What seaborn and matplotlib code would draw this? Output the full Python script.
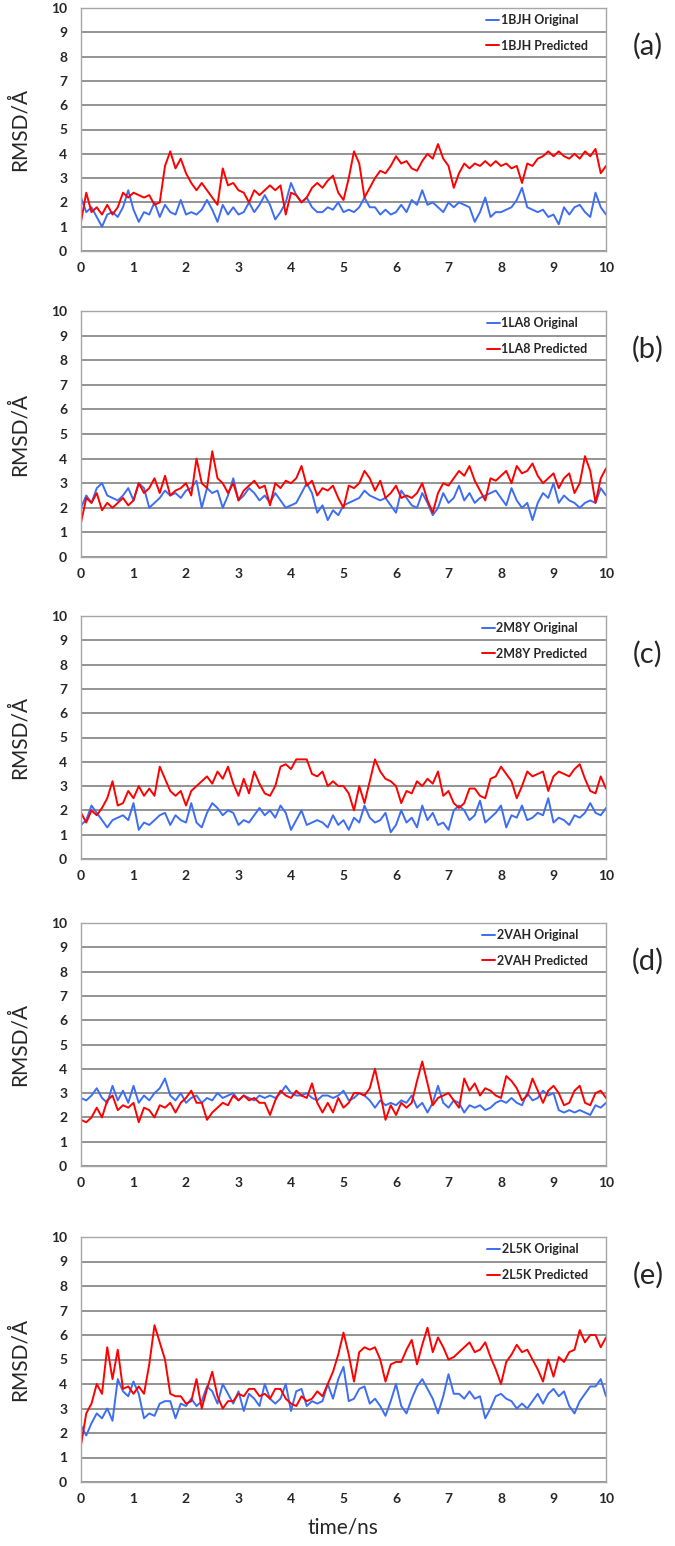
"""
RMSD traces (original vs predicted structures) for five proteins, 0-10 ns.
Values were read by eye from the published figure, sampled every 0.1 ns.
"""
import numpy as np
import pandas as pd
import matplotlib
matplotlib.use("Agg")
import matplotlib.pyplot as plt
import seaborn as sns

sns.set_theme(style="white")
plt.rcParams["font.family"] = ["Lato", "DejaVu Sans"]

# Data (RMSD in Angstrom, one value every 0.1 ns from 0 to 10 ns)
time_ns = np.round(np.arange(101) * 0.1, 1)

bjh_original = [
    2.2, 1.6, 1.8, 1.4, 1.0, 1.5, 1.6, 1.4, 1.8, 2.5,
    1.7, 1.2, 1.6, 1.5, 2.0, 1.4, 1.9, 1.6, 1.5, 2.1,
    1.5, 1.6, 1.5, 1.7, 2.1, 1.7, 1.2, 1.9, 1.5, 1.8,
    1.5, 1.6, 2.0, 1.6, 1.9, 2.3, 1.9, 1.3, 1.6, 2.0,
    2.8, 2.3, 2.0, 2.2, 1.8, 1.6, 1.6, 1.8, 1.7, 2.0,
    1.6, 1.7, 1.6, 1.8, 2.2, 1.8, 1.8, 1.5, 1.7, 1.5,
    1.6, 1.9, 1.6, 2.1, 1.9, 2.5, 1.9, 2.0, 1.8, 1.6,
    2.0, 1.8, 2.0, 1.9, 1.8, 1.2, 1.6, 2.2, 1.4, 1.6,
    1.6, 1.7, 1.8, 2.1, 2.6, 1.8, 1.7, 1.6, 1.7, 1.4,
    1.5, 1.1, 1.8, 1.5, 1.8, 1.9, 1.6, 1.4, 2.4, 1.8,
    1.5,
]
bjh_predicted = [
    1.2, 2.4, 1.6, 1.8, 1.5, 1.9, 1.5, 1.8, 2.4, 2.2,
    2.4, 2.3, 2.2, 2.3, 1.9, 2.0, 3.5, 4.1, 3.4, 3.8,
    3.2, 2.8, 2.5, 2.8, 2.5, 2.2, 1.9, 3.4, 2.7, 2.8,
    2.5, 2.4, 2.0, 2.5, 2.3, 2.5, 2.7, 2.5, 2.7, 1.5,
    2.4, 2.3, 2.0, 2.2, 2.6, 2.8, 2.6, 2.9, 3.1, 2.4,
    2.1, 3.0, 4.1, 3.6, 2.2, 2.6, 3.0, 3.3, 3.2, 3.5,
    3.9, 3.6, 3.7, 3.4, 3.3, 3.7, 4.0, 3.8, 4.4, 3.8,
    3.5, 2.6, 3.2, 3.6, 3.4, 3.6, 3.5, 3.7, 3.5, 3.7,
    3.5, 3.6, 3.4, 3.5, 2.8, 3.6, 3.5, 3.8, 3.9, 4.1,
    3.9, 4.1, 3.9, 3.8, 4.0, 3.8, 4.1, 3.9, 4.2, 3.2,
    3.5,
]

la8_original = [
    2.0, 2.5, 2.2, 2.8, 3.0, 2.5, 2.4, 2.3, 2.5, 2.8,
    2.3, 3.0, 2.8, 2.0, 2.2, 2.4, 2.7, 2.5, 2.6, 2.4,
    2.7, 2.8, 3.1, 2.0, 2.8, 2.6, 2.7, 2.0, 2.5, 3.2,
    2.3, 2.5, 2.8, 2.6, 2.3, 2.5, 2.2, 2.6, 2.3, 2.0,
    2.1, 2.2, 2.6, 3.0, 2.6, 1.8, 2.1, 1.5, 1.9, 1.7,
    2.1, 2.2, 2.3, 2.4, 2.7, 2.5, 2.4, 2.3, 2.4, 2.1,
    1.8, 2.7, 2.4, 2.1, 2.0, 2.6, 2.2, 1.7, 2.0, 2.6,
    2.2, 2.4, 2.9, 2.3, 2.6, 2.2, 2.4, 2.5, 2.6, 2.7,
    2.4, 2.1, 2.8, 2.3, 2.0, 2.2, 1.5, 2.2, 2.6, 2.4,
    3.0, 2.2, 2.5, 2.3, 2.2, 2.0, 2.2, 2.3, 2.2, 2.8,
    2.5,
]
la8_predicted = [
    1.4, 2.4, 2.2, 2.6, 1.9, 2.2, 2.0, 2.2, 2.4, 2.1,
    2.3, 3.0, 2.6, 2.8, 3.2, 2.6, 3.3, 2.5, 2.7, 2.8,
    3.0, 2.5, 4.0, 3.0, 2.8, 4.3, 3.2, 3.0, 2.6, 3.0,
    2.3, 2.7, 2.9, 3.1, 2.8, 2.9, 2.1, 3.0, 2.8, 3.1,
    3.0, 3.2, 3.7, 2.9, 3.1, 2.5, 2.8, 2.7, 2.9, 2.4,
    2.0, 2.9, 2.8, 3.0, 3.5, 3.2, 2.7, 3.1, 2.4, 2.6,
    2.9, 2.4, 2.5, 2.4, 2.6, 3.0, 2.3, 1.8, 2.6, 3.0,
    2.9, 3.2, 3.5, 3.3, 3.7, 3.1, 2.7, 2.3, 3.2, 3.1,
    3.3, 3.5, 3.0, 3.7, 3.4, 3.5, 3.8, 3.3, 3.0, 3.2,
    3.4, 2.8, 3.2, 3.4, 2.6, 3.0, 4.1, 3.5, 2.2, 3.2,
    3.6,
]

m8y_original = [
    1.4, 1.6, 2.2, 1.9, 1.6, 1.3, 1.6, 1.7, 1.8, 1.6,
    2.3, 1.2, 1.5, 1.4, 1.6, 1.8, 1.9, 1.4, 1.8, 1.6,
    1.5, 2.3, 1.5, 1.3, 1.9, 2.3, 2.1, 1.8, 2.0, 1.9,
    1.4, 1.6, 1.5, 1.8, 2.1, 1.8, 2.0, 1.7, 2.2, 1.9,
    1.2, 1.6, 2.0, 1.4, 1.5, 1.6, 1.5, 1.3, 1.8, 1.4,
    1.6, 1.2, 1.7, 1.5, 2.2, 1.7, 1.5, 1.6, 1.9, 1.1,
    1.4, 2.0, 1.5, 1.7, 1.3, 2.2, 1.6, 1.9, 1.4, 1.5,
    1.2, 2.0, 2.2, 2.0, 1.6, 1.8, 2.4, 1.5, 1.7, 1.9,
    2.2, 1.3, 1.8, 1.7, 2.2, 1.6, 1.7, 1.9, 1.8, 2.5,
    1.5, 1.7, 1.6, 1.4, 1.8, 1.7, 1.9, 2.3, 1.9, 1.8,
    2.1,
]
m8y_predicted = [
    1.9, 1.5, 2.0, 1.8, 2.1, 2.5, 3.2, 2.2, 2.3, 2.8,
    2.5, 3.0, 2.6, 2.9, 2.6, 3.8, 3.3, 2.8, 2.6, 2.8,
    2.2, 2.8, 3.0, 3.2, 3.4, 3.1, 3.6, 3.3, 3.8, 3.1,
    2.6, 3.3, 2.7, 3.6, 3.1, 2.7, 2.6, 3.0, 3.8, 3.9,
    3.7, 4.1, 4.1, 4.1, 3.5, 3.4, 3.6, 3.0, 3.2, 3.0,
    3.0, 2.7, 2.0, 3.0, 2.3, 3.2, 4.1, 3.6, 3.3, 3.2,
    3.0, 2.3, 2.8, 2.7, 3.2, 3.0, 3.3, 3.1, 3.6, 2.6,
    2.8, 2.3, 2.1, 2.3, 2.9, 2.9, 2.6, 2.5, 3.3, 3.4,
    3.8, 3.5, 3.2, 2.5, 3.0, 3.6, 3.4, 3.5, 3.6, 2.8,
    3.4, 3.6, 3.5, 3.4, 3.7, 3.9, 3.3, 2.8, 2.7, 3.4,
    2.9,
]

vah_original = [
    2.8, 2.7, 2.9, 3.2, 2.8, 2.6, 3.3, 2.7, 3.1, 2.6,
    3.3, 2.6, 2.9, 2.7, 3.0, 3.2, 3.6, 2.9, 2.7, 3.0,
    2.6, 2.8, 2.9, 2.6, 2.8, 2.7, 3.0, 2.8, 2.9, 3.0,
    2.7, 2.9, 2.8, 2.7, 2.9, 2.8, 2.9, 2.8, 3.0, 3.3,
    3.0, 2.9, 2.9, 3.0, 2.8, 2.7, 2.9, 2.9, 2.8, 2.9,
    3.1, 2.7, 2.8, 3.0, 2.9, 2.7, 2.4, 2.7, 2.5, 2.6,
    2.5, 2.7, 2.6, 2.9, 2.4, 2.6, 2.2, 2.6, 3.3, 2.6,
    2.4, 2.7, 2.6, 2.2, 2.5, 2.4, 2.5, 2.3, 2.4, 2.6,
    2.7, 2.6, 2.8, 2.6, 2.5, 3.0, 2.7, 2.8, 3.1, 2.9,
    3.0, 2.3, 2.2, 2.3, 2.2, 2.3, 2.2, 2.1, 2.5, 2.4,
    2.6,
]
vah_predicted = [
    1.9, 1.8, 2.0, 2.4, 2.0, 2.7, 2.9, 2.3, 2.5, 2.4,
    2.6, 1.8, 2.4, 2.3, 2.0, 2.5, 2.4, 2.6, 2.2, 2.6,
    2.8, 3.1, 2.6, 2.6, 1.9, 2.2, 2.4, 2.6, 2.5, 2.9,
    2.7, 2.9, 2.7, 2.8, 2.6, 2.6, 2.1, 2.7, 3.1, 2.9,
    2.8, 3.1, 2.9, 2.8, 3.4, 2.6, 2.2, 2.6, 2.2, 2.8,
    2.4, 2.6, 3.0, 3.0, 2.9, 3.2, 4.0, 3.0, 1.9, 2.5,
    2.1, 2.6, 2.4, 2.6, 3.5, 4.3, 3.4, 2.5, 2.8, 2.9,
    3.0, 2.7, 2.4, 3.6, 3.1, 3.4, 2.9, 3.2, 3.1, 2.9,
    2.8, 3.7, 3.5, 3.2, 2.7, 2.9, 3.6, 3.1, 2.6, 3.1,
    3.3, 3.0, 2.5, 2.6, 3.1, 3.3, 2.6, 2.5, 3.0, 3.1,
    2.8,
]

l5k_original = [
    2.3, 1.9, 2.4, 2.8, 2.6, 3.0, 2.5, 4.2, 3.7, 3.5,
    4.1, 3.6, 2.6, 2.8, 2.7, 3.2, 3.3, 3.3, 2.6, 3.2,
    3.1, 3.4, 3.1, 3.3, 3.9, 3.7, 3.2, 4.0, 3.6, 3.2,
    3.7, 2.9, 3.6, 3.4, 3.1, 4.0, 3.4, 3.2, 3.4, 4.0,
    2.9, 3.7, 3.8, 3.1, 3.3, 3.2, 3.3, 4.0, 3.4, 4.2,
    4.7, 3.3, 3.4, 3.8, 3.9, 3.2, 3.4, 3.1, 2.7, 3.3,
    4.0, 3.1, 2.8, 3.4, 3.9, 4.2, 3.8, 3.4, 2.8, 3.5,
    4.4, 3.6, 3.6, 3.4, 3.7, 3.4, 3.5, 2.6, 3.0, 3.5,
    3.6, 3.4, 3.3, 3.0, 3.2, 3.0, 3.3, 3.6, 3.2, 3.6,
    3.8, 3.5, 3.7, 3.1, 2.8, 3.3, 3.6, 3.9, 3.9, 4.2,
    3.5,
]
l5k_predicted = [
    1.5, 2.8, 3.2, 4.0, 3.6, 5.5, 4.2, 5.4, 3.8, 3.9,
    3.6, 3.9, 3.6, 4.8, 6.4, 5.7, 5.0, 3.6, 3.5, 3.5,
    3.2, 3.3, 4.2, 3.0, 3.8, 4.5, 3.5, 3.0, 3.3, 3.3,
    3.6, 3.5, 3.8, 3.8, 3.5, 3.6, 3.4, 3.8, 3.8, 3.4,
    3.2, 3.1, 3.5, 3.3, 3.4, 3.7, 3.5, 4.0, 4.5, 5.2,
    6.1, 5.2, 4.1, 5.3, 5.5, 5.4, 5.5, 5.0, 4.1, 4.8,
    4.9, 4.9, 5.4, 5.8, 4.8, 5.6, 6.3, 5.3, 5.9, 5.5,
    5.0, 5.1, 5.3, 5.5, 5.7, 5.3, 5.4, 5.7, 5.1, 4.6,
    4.0, 4.9, 5.2, 5.6, 5.3, 5.4, 5.0, 4.6, 4.1, 5.0,
    4.3, 5.1, 4.9, 5.3, 5.4, 6.2, 5.7, 6.0, 6.0, 5.5,
    5.9,
]

protein_ids = ["1BJH", "1LA8", "2M8Y", "2VAH", "2L5K"]
panel_tags = ["(a)", "(b)", "(c)", "(d)", "(e)"]
original_runs = [bjh_original, la8_original, m8y_original, vah_original, l5k_original]
predicted_runs = [bjh_predicted, la8_predicted, m8y_predicted, vah_predicted, l5k_predicted]

for run in original_runs + predicted_runs:
    assert len(run) == len(time_ns)

# Layout: panel top/bottom edges in pixels (figure is 675 x 1546)
W, H = 675, 1546
panel_px = [(8, 251), (311, 557), (616, 859), (923, 1166), (1237, 1482)]
ax_left, ax_right = 81, 606

BLUE = "#3D6DF2"
RED = "#FF0000"

fig = plt.figure(figsize=(W / 100, H / 100), dpi=100)

for i, pid in enumerate(protein_ids):
    top, bottom = panel_px[i]
    ax = fig.add_axes([ax_left / W, 1 - bottom / H,
                       (ax_right - ax_left) / W, (bottom - top) / H])

    lab_orig = f"{pid} Original"
    lab_pred = f"{pid} Predicted"
    df = pd.DataFrame({
        "time": np.concatenate([time_ns, time_ns]),
        "rmsd": np.concatenate([original_runs[i], predicted_runs[i]]),
        "series": [lab_orig] * len(time_ns) + [lab_pred] * len(time_ns),
    })

    sns.lineplot(data=df, x="time", y="rmsd", hue="series",
                 hue_order=[lab_orig, lab_pred], palette=[BLUE, RED],
                 errorbar=None, linewidth=1.4, ax=ax)

    ax.set_xlim(0, 10)
    ax.set_ylim(0, 10)
    ax.set_xticks(range(11))
    ax.set_yticks(range(11))
    ax.tick_params(axis="both", length=0, labelsize=10)
    ax.tick_params(axis="x", pad=8)
    ax.tick_params(axis="y", pad=10)
    for lbl in ax.get_xticklabels() + ax.get_yticklabels():
        lbl.set_fontweight("bold")

    ax.set_axisbelow(True)
    ax.yaxis.grid(True, color="#808080", linewidth=1.2)
    ax.xaxis.grid(False)
    for sp in ax.spines.values():
        sp.set_color("#a6a6a6")
        sp.set_linewidth(1.0)

    ax.set_xlabel("")
    ax.set_ylabel("RMSD/Å", fontsize=15)
    ax.yaxis.set_label_coords(-0.098, 0.5)

    handles, labels = ax.get_legend_handles_labels()
    ax.legend(handles, labels, loc="upper right", bbox_to_anchor=(0.965, 0.975),
              frameon=False, borderpad=0, borderaxespad=0,
              handlelength=1.0, handletextpad=0.15, labelspacing=1.1,
              prop={"weight": "bold", "size": 9})

    fig.text(648 / W, 1 - (top + 38) / H, panel_tags[i],
             ha="center", va="center", fontsize=21)

fig.text(343 / W, 1 - 1528 / H, "time/ns", ha="center", va="center", fontsize=15)

fig.savefig("out.png", dpi=100, facecolor="white")
